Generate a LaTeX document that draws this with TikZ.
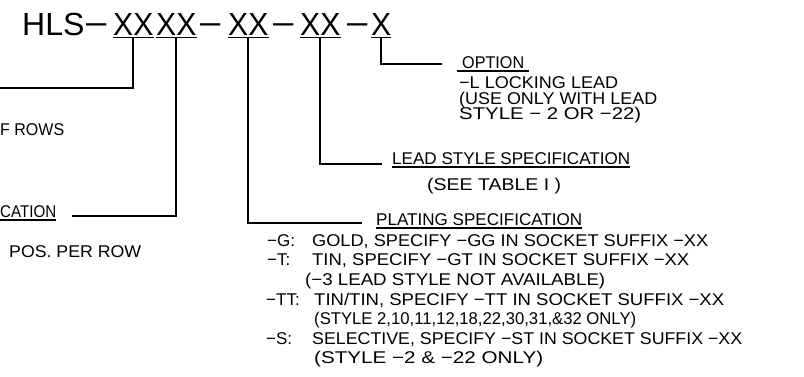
\documentclass[tikz,border=0pt]{standalone}
\usepackage{fontspec}
\usepackage{graphicx}
\setmainfont{Liberation Sans}
\newcommand\tX[1]{\scalebox{0.94}[1]{#1}}
\newcommand\fitw[2]{\resizebox{#1}{\height}{#2}}
\tikzset{
  ttl/.style={inner sep=0pt, anchor=base west, font=\fontsize{32}{36}\selectfont},
  lbl/.style={inner sep=0pt, anchor=base west, font=\fontsize{17}{19}\selectfont},
  ul/.style={line width=1.3pt},
  conn/.style={line width=1.7pt},
}
\begin{document}
\begin{tikzpicture}[x=1pt,y=-1pt]
\useasboundingbox (0,0) rectangle (804,376);
% title
\node[ttl] (hls) at (22,35) {HLS};
\node[ttl] (d1) at (84,35) {\scalebox{1.3}[1]{−}};
\node[ttl] (xa) at (113,35) {\tX{XX}};
\node[ttl] (xb) at (156,35) {\tX{XX}};
\node[ttl] (d2) at (198,35) {\scalebox{1.3}[1]{−}};
\node[ttl] (xc) at (228,35) {\tX{XX}};
\node[ttl] (d3) at (271,35) {\scalebox{1.3}[1]{−}};
\node[ttl] (xd) at (300,35) {\tX{XX}};
\node[ttl] (d4) at (345,35) {\scalebox{1.3}[1]{−}};
\node[ttl] (xe) at (371,35) {\tX{X}};
\foreach \n in {xa,xb,xc,xd,xe}
  \draw[ul] ([yshift=-2.5pt]\n.base west) -- ([yshift=-2.5pt]\n.base east);
% end points
\coordinate (e1) at (0,88);
\coordinate (e2) at (72,216);
\coordinate (e3) at (362,223);
\coordinate (e4) at (382,164);
\coordinate (e5) at (442,64);
\draw[conn] ([yshift=-2.5pt]xa.base) |- (e1);
\draw[conn] ([yshift=-2.5pt]xb.base) |- (e2);
\draw[conn] ([yshift=-2.5pt]xc.base) |- (e3);
\draw[conn] ([yshift=-2.5pt]xd.base) |- (e4);
\draw[conn] ([yshift=-2.5pt]xe.base) |- (e5);
% left labels
\node[lbl] (rows) at (0,135) {\fitw{64pt}{F ROWS}};
\node[lbl] (cat) at (0,217) {\fitw{56pt}{CATION}};
\draw[ul] ([yshift=-3pt]cat.base west) -- ([yshift=-3pt]cat.base east);
\node[lbl] (pos) at (9,257) {\fitw{132pt}{POS. PER ROW}};
% option
\node[lbl] (opt) at (462,68) {\fitw{62pt}{OPTION}};
\draw[ul] ([xshift=-5pt,yshift=-3pt]opt.base west) -- ([xshift=5pt,yshift=-3pt]opt.base east);
\node[lbl] (o1) at (459,88.5) {\fitw{159pt}{−L LOCKING LEAD}};
\node[lbl] (o2) at (459,104) {\fitw{198pt}{(USE ONLY WITH LEAD}};
\node[lbl] (o3) at (459,119.5) {\fitw{182pt}{STYLE − 2 OR −22)}};
% lead style
\node[lbl] (ls) at (392,164) {\fitw{238pt}{LEAD STYLE SPECIFICATION}};
\draw[ul] ([yshift=-3pt]ls.base west) -- ([yshift=-3pt]ls.base east);
\node[lbl] (tab) at (427,190) {\fitw{134pt}{(SEE TABLE I )}};
% plating
\node[lbl] (pl) at (376,225) {\fitw{206pt}{PLATING SPECIFICATION}};
\draw[ul] ([yshift=-3pt]pl.base west) -- ([yshift=-3pt]pl.base east);
\node[lbl] (p1) at (267,246) {\makebox[45pt][l]{−G:}\fitw{396pt}{GOLD, SPECIFY −GG IN SOCKET SUFFIX −XX}};
\node[lbl] (p2) at (267,265.5) {\makebox[45pt][l]{−T:}\fitw{377pt}{TIN, SPECIFY −GT IN SOCKET SUFFIX −XX}};
\node[lbl] (p3) at (305,285) {\fitw{300pt}{(−3 LEAD STYLE NOT AVAILABLE)}};
\node[lbl] (p4) at (266,305) {\makebox[48pt][l]{−TT:}\fitw{410pt}{TIN/TIN, SPECIFY −TT IN SOCKET SUFFIX −XX}};
\node[lbl] (p5) at (314,324.5) {\fitw{322pt}{(STYLE 2,10,11,12,18,22,30,31,\&32 ONLY)}};
\node[lbl] (p6) at (266,344) {\makebox[46pt][l]{−S:}\fitw{430pt}{SELECTIVE, SPECIFY −ST IN SOCKET SUFFIX −XX}};
\node[lbl] (p7) at (314,363.5) {\fitw{229pt}{(STYLE −2 \& −22 ONLY)}};
\end{tikzpicture}
\end{document}
